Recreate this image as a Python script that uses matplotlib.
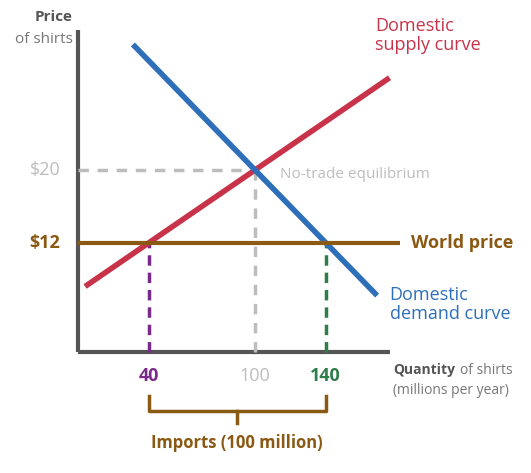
import matplotlib.pyplot as plt
from matplotlib.patches import FancyBboxPatch

plt.rcParams['font.family'] = ['Open Sans', 'DejaVu Sans']

# ==================== data ====================
supply_q = [4, 176]
supply_p = [12 + (q - 40) * 8 / 60 for q in supply_q]
demand_q = [31, 169]
demand_p = [20 - (q - 100) * 0.2 for q in demand_q]
world_price = 12
equil_q, equil_p = 100, 20
q_import_lo, q_import_hi = 40, 140

RED = '#c8334a'
BLUE = '#2e6fba'
BROWN = '#8a5a14'
PURPLE = '#7a2a8a'
GREEN = '#2e7d4a'
GRAY = '#bdbdbd'
DARK = '#555555'

fig = plt.figure(figsize=(5.31, 4.73), dpi=100)
ax = fig.add_axes([0, 0, 1, 1])
# map pixels: q=0 at x=78, 1.77 px/unit; p=0 at y=352, 9.1 px/unit
ax.set_xlim(-78 / 1.77, (531 - 78) / 1.77)
ax.set_ylim((352 - 473) / 9.1, 352 / 9.1)
ax.axis('off')

# axes
ax.plot([0, 0], [0, 35.4], color=DARK, lw=3, solid_capstyle='butt')
ax.plot([0, 176], [0, 0], color=DARK, lw=3, solid_capstyle='butt')

# guides
ax.plot([0, equil_q], [equil_p, equil_p], color=GRAY, lw=2.5, ls=(0, (3, 2.5)))
ax.plot([equil_q, equil_q], [0, equil_p], color=GRAY, lw=2.5, ls=(0, (3, 2.5)))
ax.plot([q_import_lo, q_import_lo], [0, world_price], color=PURPLE, lw=2.5, ls=(0, (3, 2)))
ax.plot([q_import_hi, q_import_hi], [0, world_price], color=GREEN, lw=2.5, ls=(0, (3, 2)))

# curves
ax.plot(supply_q, supply_p, color=RED, lw=4, solid_capstyle='butt')
ax.plot(demand_q, demand_p, color=BLUE, lw=4, solid_capstyle='butt')
ax.plot([0, 182], [world_price, world_price], color=BROWN, lw=3, solid_capstyle='butt')

# labels
fs = 13
ax.text(-10, equil_p, '$20', color=GRAY, fontsize=fs, ha='right', va='center')
ax.text(-10, world_price, '$12', color=BROWN, fontsize=fs, ha='right', va='center', fontweight='bold')
ax.text(q_import_lo, -1.6, '40', color=PURPLE, fontsize=fs, ha='center', va='top', fontweight='bold')
ax.text(equil_q, -1.6, '100', color=GRAY, fontsize=fs, ha='center', va='top')
ax.text(q_import_hi, -1.6, '140', color=GREEN, fontsize=fs, ha='center', va='top', fontweight='bold')

ax.text(-3, 36.8, 'Price', color=DARK, fontsize=11, ha='right', va='center', fontweight='bold')
ax.text(-3, 34.3, 'of shirts', color='#777777', fontsize=11, ha='right', va='center')
ax.text(168, 34.8, 'Domestic\nsupply curve', color=RED, fontsize=fs, ha='left', va='center', linespacing=1.1)
ax.text(114, 19.5, 'No-trade equilibrium', color=GRAY, fontsize=11, ha='left', va='center')
ax.text(188, world_price, 'World price', color=BROWN, fontsize=fs, ha='left', va='center', fontweight='bold')
ax.text(176, 5.2, 'Domestic\ndemand curve', color=BLUE, fontsize=fs, ha='left', va='center', linespacing=1.1)
ax.text(178, -2.0, 'Quantity', color=DARK, fontsize=10, ha='left', va='center', fontweight='bold')
ax.text(216, -2.0, 'of shirts', color='#777777', fontsize=10, ha='left', va='center')
ax.text(178, -4.2, '(millions per year)', color='#777777', fontsize=10, ha='left', va='center')

# brace
by_top, by_mid, by_tip = -4.8, -6.5, -7.8
mid = (q_import_lo + q_import_hi) / 2
ax.plot([q_import_lo, q_import_lo, q_import_hi, q_import_hi],
        [by_top, by_mid, by_mid, by_top], color=BROWN, lw=2.5)
ax.plot([mid, mid], [by_mid, by_tip], color=BROWN, lw=2.5)
ax.text(mid, -10.0, 'Imports (100 million)', color=BROWN, fontsize=12, ha='center', va='center', fontweight='bold')

fig.savefig('out.png', dpi=100)
